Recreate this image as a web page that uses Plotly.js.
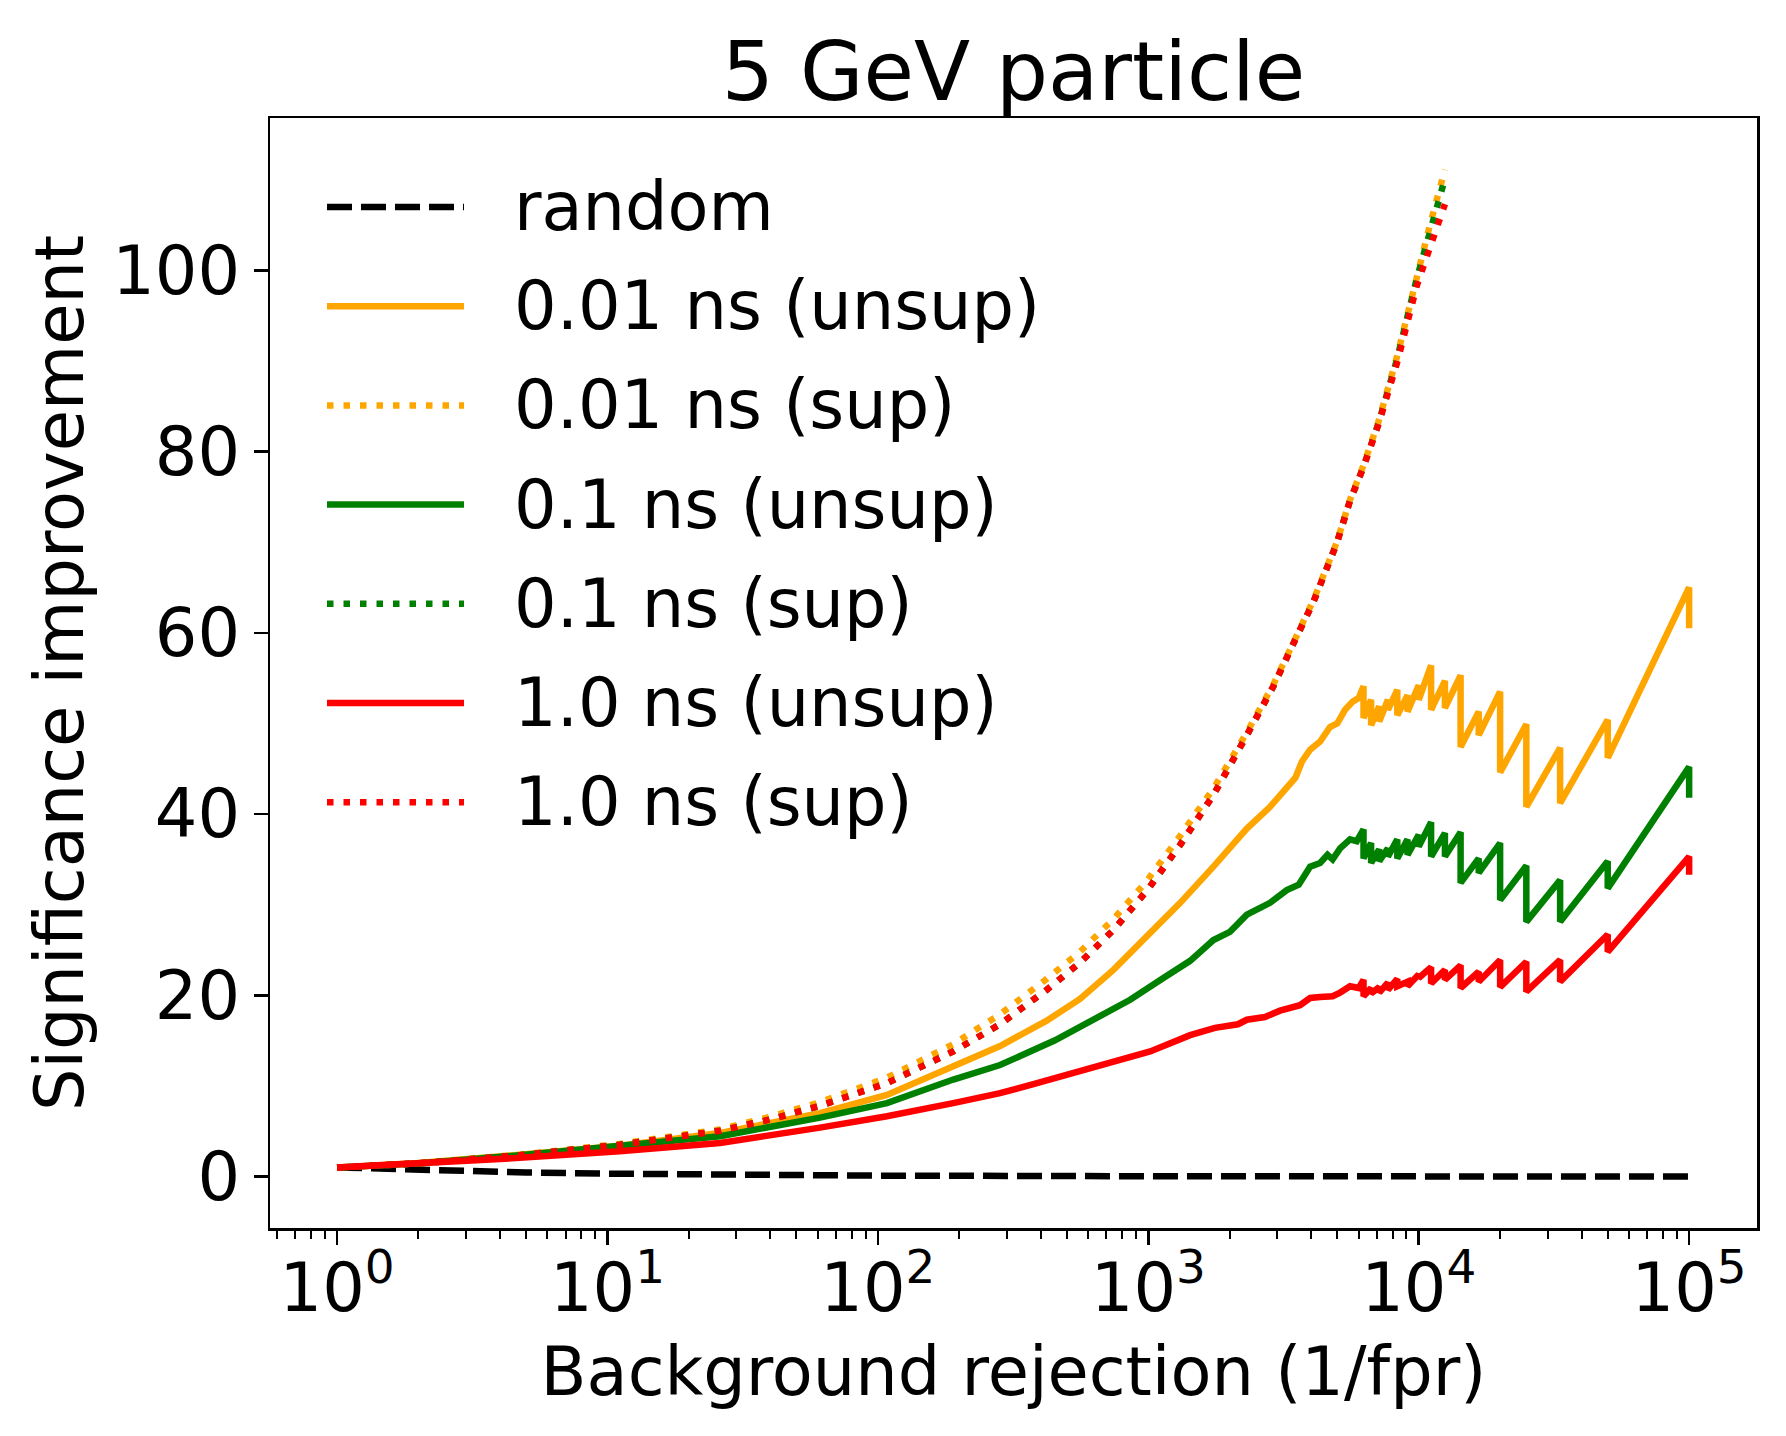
<!DOCTYPE html>
<html>
<head>
<meta charset="utf-8">
<script src="https://cdn.plot.ly/plotly-3.0.1.min.js"></script>
<style>
    body { margin: 0; background: white; }
    #myDiv { width: 1786px; height: 1436px; }
</style>
</head>
<body>
<div id="myDiv"></div>
<script>
// values
const random_x = [1, 2, 5, 10, 30, 100, 1000, 10000, 100000];
const random_y = [1.0, 0.71, 0.45, 0.32, 0.18, 0.1, 0.03, 0.01, 0.003];

// sawtooth part at high rejection: 1e5/k, each point twice (peak, then drop)
const saw_x = [6250, 6250, 6667, 6667, 7143, 7143, 7692, 7692, 8333, 8333, 9091, 9091,
    10000, 10000, 11111, 11111, 12500, 12500, 14286, 14286, 16667, 16667, 20000, 20000,
    25000, 25000, 33333, 33333, 50000, 50000, 100000, 100000];

const unsup001_x = [1, 2, 4.75, 11.1, 26.1, 61.1, 108, 190, 283, 421, 559, 743, 986, 1312, 1741, 2314,
    2820, 3252, 3500, 3700, 3966, 4318, 4700, 5000, 5340, 5700, 6000].concat(saw_x);
const unsup001_y = [1.0, 1.5, 2.4, 3.4, 4.8, 7.0, 9.0, 12.2, 14.4, 17.2, 19.6, 22.8, 26.4, 30.2, 34.2, 38.4,
    40.8, 43.0, 44.0, 45.8, 47.1, 48.0, 49.6, 50.0, 51.5, 52.4, 52.8,
    54.1, 50.6, 52.6, 49.8, 51.9, 50.2, 52.6, 51.5, 53.7, 50.9, 53.1, 51.3,
    54.2, 52.6, 56.4, 51.5, 54.7, 51.7, 55.3, 47.4, 51.3, 48.7, 53.5, 44.6,
    49.9, 40.8, 47.3, 41.2, 50.4, 46.2, 65.0, 60.5];

const unsup01_x = [1, 2, 4.75, 11.1, 26.1, 61.1, 108, 190, 283, 450, 627, 857, 1137, 1428, 1741, 2004, 2314,
    2820, 3252, 3600, 3834, 3966, 4318, 4600, 4805, 5120, 5572, 5900].concat(saw_x);
const unsup01_y = [1.0, 1.45, 2.35, 3.35, 4.45, 6.5, 8.1, 10.7, 12.3, 15.0, 17.3, 19.5, 21.9, 23.8, 26.1, 27.0, 28.9,
    30.2, 31.6, 32.2, 33.5, 34.2, 34.6, 35.5, 35.0, 36.2, 37.2, 37.0,
    38.3, 35.1, 36.8, 34.6, 36.1, 34.8, 36.2, 35.3, 37.2, 35.1, 37.2, 35.5,
    37.7, 36.4, 39.1, 35.3, 37.9, 35.3, 38.0, 32.4, 35.1, 33.5, 36.8, 30.5,
    34.3, 28.1, 32.7, 28.1, 34.8, 31.8, 45.2, 41.8];

const unsup1_x = [1, 2, 4.75, 11.1, 26.1, 61.1, 108, 190, 283, 376, 536, 664, 821, 1016, 1428, 1764, 2145,
    2314, 2700, 3070, 3640, 3966, 4318, 4805, 5120, 5572, 6000].concat(saw_x);
const unsup1_y = [1.0, 1.4, 2.06, 2.8, 3.7, 5.4, 6.65, 8.1, 9.2, 10.2, 11.5, 12.4, 13.1, 13.8, 15.6, 16.4, 16.8,
    17.3, 17.6, 18.3, 18.9, 19.7, 19.8, 19.9, 20.3, 21.0, 20.8,
    21.7, 19.9, 20.8, 20.2, 20.9, 20.3, 21.4, 20.6, 21.8, 21.0, 21.5, 21.0,
    22.3, 21.9, 23.1, 21.3, 22.8, 21.7, 23.3, 20.8, 22.6, 21.5, 23.9, 20.9,
    23.7, 20.4, 23.9, 21.5, 26.7, 24.8, 35.3, 33.3];

const sup_x = [1, 2, 4.75, 11.1, 26.1, 40, 61.1, 108, 190, 283, 421, 559, 743, 986, 1312, 1741, 2314,
    2901, 3541, 4080, 4980, 5575, 6250, 7100, 8300, 9840, 11000, 12500];
const sup001_y = [1.0, 1.45, 2.4, 3.6, 5.2, 6.6, 8.2, 10.9, 14.6, 17.9, 21.8, 24.8, 28.4, 32.6, 37.6, 42.8, 49.0,
    54.3, 59.7, 63.6, 70.0, 74.7, 78.5, 83.3, 90.4, 99.5, 105.0, 111.1];
const sup01_y = [1.0, 1.45, 2.35, 3.5, 5.05, 6.3, 7.8, 10.3, 13.8, 16.8, 20.6, 23.6, 27.2, 31.5, 36.6, 42.1, 48.7,
    54.1, 59.6, 63.4, 69.9, 74.6, 78.3, 83.1, 90.1, 99.1, 104.2, 110.1];
const sup1_y = [1.0, 1.45, 2.35, 3.5, 5.05, 6.3, 7.8, 10.3, 13.8, 16.8, 20.6, 23.6, 27.2, 31.5, 36.6, 42.1, 48.7,
    54.1, 59.6, 63.4, 69.9, 74.6, 78.3, 83.0, 89.7, 98.3, 102.5, 107.3];

const names = ['random', '0.01 ns (unsup)', '0.01 ns (sup)', '0.1 ns (unsup)', '0.1 ns (sup)',
    '1.0 ns (unsup)', '1.0 ns (sup)'];
const colors = ['black', 'orange', 'orange', 'green', 'green', 'red', 'red'];

const x_tickvals = [1, 10, 100, 1000, 10000, 100000];
const x_ticktext = ['10<sup>0</sup>', '10<sup>1</sup>', '10<sup>2</sup>', '10<sup>3</sup>',
    '10<sup>4</sup>', '10<sup>5</sup>'];
const y_tickvals = [0, 20, 40, 60, 80, 100];

const FONT = 'DejaVu Sans';
const W = 1786, H = 1436;
const M = {l: 270, r: 29, t: 118, b: 208};
const LW = 6.5;
const DASHED = '25px,9px';
const DOTTED = '6.5px,10px';

const series = [
    {x: random_x, y: random_y, dash: DASHED},
    {x: unsup001_x, y: unsup001_y, dash: 'solid'},
    {x: sup_x, y: sup001_y, dash: DOTTED},
    {x: unsup01_x, y: unsup01_y, dash: 'solid'},
    {x: sup_x, y: sup01_y, dash: DOTTED},
    {x: unsup1_x, y: unsup1_y, dash: 'solid'},
    {x: sup_x, y: sup1_y, dash: DOTTED},
];

function getData() {
    return series.map((s, i) => ({
        x: s.x,
        y: s.y,
        name: names[i],
        type: 'scatter',
        mode: 'lines',
        line: {color: colors[i], width: LW, dash: s.dash},
        hoverinfo: 'skip'
    }));
}

function minorTicks() {
    let vals = [];
    for (let e = -1; e < 5; e++) {
        for (let m = 2; m < 10; m++) {
            vals.push(m * Math.pow(10, e));
        }
    }
    return vals;
}

// pixel -> paper helpers for the hand-made legend
function px2paperX(px) {
    return (px - M.l) / (W - M.l - M.r);
}
function px2paperY(py) {
    return (H - M.b - py) / (H - M.t - M.b);
}

function getLegend() {
    let shapes = [];
    let annotations = [];
    for (let i = 0; i < names.length; i++) {
        let row = 207 + i * 99.2;
        shapes.push({
            type: 'line', xref: 'paper', yref: 'paper',
            x0: px2paperX(327), x1: px2paperX(464),
            y0: px2paperY(row), y1: px2paperY(row),
            line: {color: colors[i], width: LW, dash: series[i].dash}
        });
        annotations.push({
            xref: 'paper', yref: 'paper',
            x: px2paperX(512), y: px2paperY(row),
            xanchor: 'left', yanchor: 'middle',
            text: names[i], showarrow: false,
            font: {family: FONT, size: 67, color: 'black'}
        });
    }
    return {shapes: shapes, annotations: annotations};
}

const legend = getLegend();

Plotly.newPlot('myDiv', getData(), {
    width: W,
    height: H,
    margin: M,
    paper_bgcolor: 'white',
    plot_bgcolor: 'white',
    showlegend: false,
    font: {family: FONT, size: 67, color: 'black'},
    title: {
        text: '5 GeV particle',
        font: {family: FONT, size: 82, color: 'black'},
        x: 0.5, xref: 'paper', xanchor: 'center',
        y: 1 - 71 / H, yref: 'container', yanchor: 'middle'
    },
    xaxis: {
        type: 'log',
        range: [-0.248, 5.251],
        tickmode: 'array',
        tickvals: x_tickvals,
        ticktext: x_ticktext,
        ticks: 'outside', ticklen: 14, tickwidth: 2.5, tickcolor: 'black',
        ticklabelstandoff: -14,
        minor: {tickmode: 'array', tickvals: minorTicks(), ticks: 'outside',
            ticklen: 8, tickwidth: 2, tickcolor: 'black', showgrid: false},
        showline: true, linecolor: 'black', linewidth: 2.5, mirror: true,
        showgrid: false, zeroline: false, automargin: false,
        tickfont: {family: FONT, size: 67, color: 'black'},
        title: {text: 'Background rejection (1/fpr)', standoff: 22,
            font: {family: FONT, size: 67, color: 'black'}}
    },
    yaxis: {
        range: [-5.68, 116.8],
        tickmode: 'array',
        tickvals: y_tickvals,
        ticks: 'outside', ticklen: 14, tickwidth: 2.5, tickcolor: 'black',
        showline: true, linecolor: 'black', linewidth: 2.5, mirror: true,
        showgrid: false, zeroline: false, automargin: false,
        tickfont: {family: FONT, size: 67, color: 'black'},
        title: {text: 'Significance improvement', standoff: 7,
            font: {family: FONT, size: 67, color: 'black'}}
    },
    shapes: legend.shapes,
    annotations: legend.annotations
}, {staticPlot: true});
</script>
</body>
</html>
